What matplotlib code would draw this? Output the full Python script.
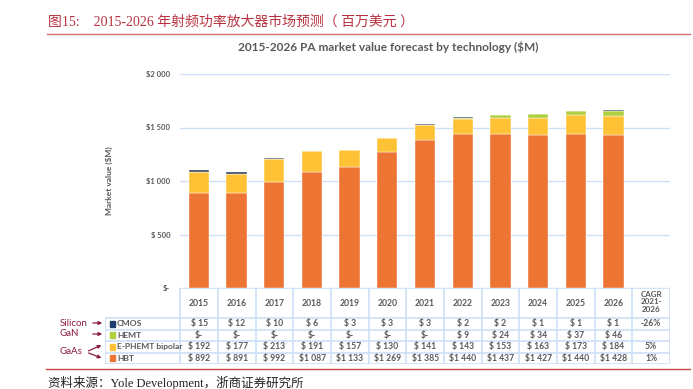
"""PA market value forecast by technology, 2015-2026 (stacked bars + data table)."""

import matplotlib

matplotlib.use("Agg")
import matplotlib.pyplot as plt
from matplotlib.patches import Rectangle

W, H = 693, 389

# --- Data ---------------------------------------------------------------------
years = ["2015", "2016", "2017", "2018", "2019", "2020",
         "2021", "2022", "2023", "2024", "2025", "2026"]
cmos = [15, 12, 10, 6, 3, 3, 3, 2, 2, 1, 1, 1]
hemt = [0, 0, 0, 0, 0, 0, 0, 9, 24, 34, 37, 46]
ephemt = [192, 177, 213, 191, 157, 130, 141, 143, 153, 163, 173, 184]
hbt = [892, 891, 992, 1087, 1133, 1269, 1385, 1440, 1437, 1427, 1440, 1428]
cagr = ["-26%", "", "5%", "1%"]
series_names = ["CMOS", "HEMT", "E-PHEMT bipolar", "HBT"]
yticks = [0, 500, 1000, 1500, 2000]
ytick_labels = ["$-", "$ 500", "$1 000", "$1 500", "$2 000"]

colors = {"CMOS": "#2b3f5c", "HEMT": "#b0cf3e", "E-PHEMT bipolar": "#fec234", "HBT": "#ed7533"}
legend_colors = {"CMOS": "#1f3d6e", "HEMT": "#b0cf3e", "E-PHEMT bipolar": "#fec234", "HBT": "#ed7533"}
GRID = "#cde0f6"
GREY = "#595959"
RED = "#b8323f"
DARKRED = "#8c1d40"


def fx(x):
    return x / W


def fy(y):
    return 1 - y / H


def money(v):
    if v == 0:
        return "$-"
    if v >= 1000:
        return f"${v // 1000} {v % 1000:03d}"
    return f"$ {v}"


fig = plt.figure(figsize=(W / 100, H / 100), dpi=100)
fig.patch.set_facecolor("white")

serif_cjk = ["Liberation Serif", "Noto Sans CJK SC"]
fig.text(fx(48), fy(22), "图15:    2015-2026 年射频功率放大器市场预测（ 百万美元 ）",
         family=serif_cjk, fontsize=10, color=RED, va="center", ha="left")
fig.add_artist(plt.Line2D([fx(47), fx(690)], [fy(34), fy(34)], color="#d07070", lw=1.0))
fig.text(fx(388), fy(47), "2015-2026 PA market value forecast by technology ($M)",
         family="Lato", fontweight="bold", fontsize=8.6, color=GREY, ha="center", va="center")

# --- Bars ---------------------------------------------------------------------
ax = fig.add_axes([fx(180), fy(288), 490 / W, 214 / H])
ax.set_xlim(-0.5, 12.5)
ax.set_ylim(0, 2000)
x = list(range(len(years)))
bottom = [0] * len(years)
for name, vals in (("HBT", hbt), ("E-PHEMT bipolar", ephemt), ("HEMT", hemt), ("CMOS", cmos)):
    ax.bar(x, vals, 0.54, bottom=bottom, color=colors[name], edgecolor="white", lw=0.3, zorder=3)
    bottom = [b + v for b, v in zip(bottom, vals)]
for s in ax.spines.values():
    s.set_visible(False)
ax.set_xticks([])
ax.set_yticks(yticks)
ax.set_yticklabels(ytick_labels, family="Lato", fontweight="bold", fontsize=5.5, color=GREY)
ax.tick_params(axis="y", length=0, pad=7)
ax.grid(axis="y", color=GRID, lw=1.0, zorder=0)
ax.set_ylabel("Market value ($M)", family="Lato", fontweight="bold", fontsize=6, color=GREY, labelpad=24)

# --- Table --------------------------------------------------------------------
tax = fig.add_axes([fx(105), fy(364), 565 / W, 76 / H])
tax.set_xlim(-2.5, 12.5)
tax.set_ylim(76, 0)
tax.axis("off")
rb = [0, 30, 41.5, 53, 64.5, 76]
lkw = dict(color=GRID, lw=1.2, solid_capstyle="butt")
for i in range(14):
    tax.plot([-0.5 + i, -0.5 + i], [0, 76], **lkw)
tax.plot([-2.5, -2.5], [rb[1], 76], **lkw)
for k, yb in enumerate(rb):
    tax.plot([-0.5 if k == 0 else -2.5, 12.5], [yb, yb], **lkw)

tkw = dict(family="Lato", fontweight="bold", fontsize=6.2, color=GREY, ha="center", va="center")
for i, yr in enumerate(years):
    tax.text(i, 15, yr, **tkw)
tax.text(12, 14, "CAGR\n2021-\n2026", linespacing=1.05, **{**tkw, "fontsize": 5.8})

rows = [cmos, hemt, ephemt, hbt]
for r, (name, vals) in enumerate(zip(series_names, rows)):
    yc = (rb[r + 1] + rb[r + 2]) / 2
    tax.add_patch(Rectangle((-2.38, yc - 2.8), 0.15, 5.6, color=legend_colors[name]))
    tax.text(-2.18, yc, name, **{**tkw, "ha": "left", "fontsize": 6.1})
    for i, v in enumerate(vals):
        tax.text(i, yc, money(v), **tkw)
    tax.text(12, yc, cagr[r], **tkw)

# --- Technology labels and arrows ---------------------------------------------
lab = dict(family="Lato", fontsize=7, color=DARKRED, ha="left", va="center")
fig.text(fx(60), fy(323), "Silicon", **lab)
fig.text(fx(60), fy(334), "GaN", **lab)
fig.text(fx(60), fy(352), "GaAs", **lab)
akw = dict(arrowstyle="-|>", color=DARKRED, lw=0.9, mutation_scale=5)
for (x0, y0), (x1, y1) in [((90, 323), (105, 323)), ((90, 334), (105, 334)),
                             ((86, 352), (104, 344)), ((86, 352), (104, 359))]:
    fig.add_artist(matplotlib.patches.FancyArrowPatch((fx(x0), fy(y0)), (fx(x1), fy(y1)),
                                                      transform=fig.transFigure, **akw))

fig.add_artist(plt.Line2D([fx(46), fx(690)], [fy(369), fy(369)], color="#c84848", lw=1.0))
fig.text(fx(48), fy(383), "资料来源：Yole Development，浙商证券研究所",
         family=serif_cjk, fontsize=9, color="#222222", ha="left", va="center")

fig.savefig("out.png", dpi=100)
